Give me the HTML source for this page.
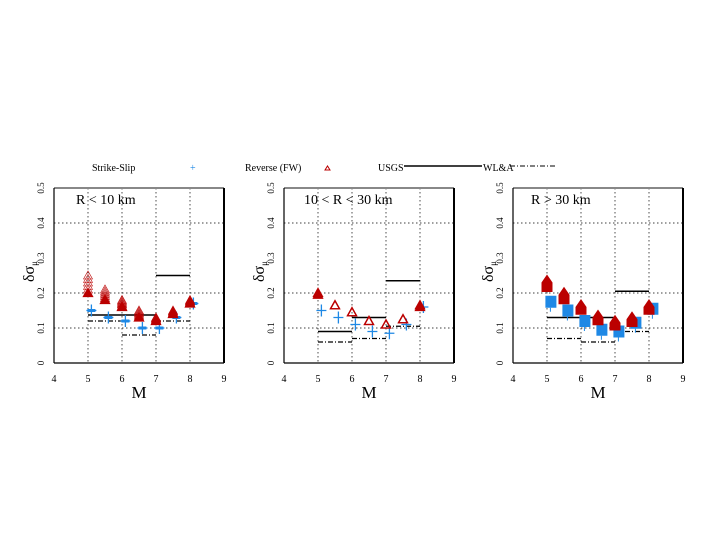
<!DOCTYPE html>
<html><head><meta charset="utf-8"><style>
body{margin:0;background:#fff;width:720px;height:540px;overflow:hidden}
svg text{font-family:"Liberation Serif",serif;fill:#000}
</style></head><body>
<svg id="c" width="720" height="540">
<g>
<text x="92" y="171" font-size="10">Strike-Slip</text>
<text x="190" y="171" font-size="10" style="fill:#1e88e5">+</text>
<text x="245" y="171" font-size="10">Reverse (FW)</text>
<path d="M325,170 L327.5,166 L330,170 Z" fill="none" stroke="#b00"/>
<text x="378" y="171" font-size="10">USGS</text>
<line x1="404" y1="166" x2="482" y2="166" stroke="#000" stroke-width="1.5"/>
<text x="483" y="171" font-size="10">WL&amp;A</text>
<line x1="510" y1="166" x2="555" y2="166" stroke="#000" stroke-dasharray="5,2,1,2"/>
</g>
</svg>
<script>
const mags=[5,5.5,6,6.5,7,7.5,8];
const titles=["R < 10 km","10 < R < 30 km","R > 30 km"];
const ssVals=[[0.15,0.13,0.12,0.10,0.10,0.13,0.17],[0.15,0.13,0.11,0.09,0.085,0.11,0.16],[0.175,0.15,0.12,0.095,0.09,0.115,0.155]];
const rvVals=[[0.20,0.18,0.16,0.13,0.12,0.14,0.17],[0.195,0.165,0.145,0.12,0.11,0.125,0.16],[0.22,0.185,0.155,0.125,0.11,0.12,0.155]];
const rvMax=[[0.25,0.21,0.18,0.15,0.13,0.15,0.18],[0.2,0.165,0.145,0.12,0.11,0.125,0.165],[0.23,0.195,0.16,0.13,0.115,0.125,0.16]];
const usgsBins2=[[[5,7],[7,8]],[[5,6],[6,7],[7,8]],[[5,7],[7,8]]];
const usgsV2=[[0.137,0.25],[0.09,0.13,0.235],[0.13,0.205]];
const wlaBins=[[5,6],[6,7],[7,8]];
const wlaVals=[[0.12,0.08,0.12],[0.06,0.07,0.105],[0.07,0.06,0.09]];
const xTicks=[4,5,6,7,8,9];
const yTicks=[0,0.1,0.2,0.3,0.4,0.5];
const gridY=[0.1,0.2,0.4];
const panelX=[54,284,513];
const NS="http://www.w3.org/2000/svg";
const svg=document.getElementById('c');
function mk(t,a,p){const e=document.createElementNS(NS,t);for(const k in a)e.setAttribute(k,a[k]);(p||svg).appendChild(e);return e;}
for(let p=0;p<3;p++){
 const x0=panelX[p],w=170,yT=188,yB=363;
 const X=m=>x0+(m-4)/5*w, Y=v=>yB-v/0.5*(yB-yT);
 const g=mk('g',{});
 
 
 for(const t of xTicks.slice(1,-1)){const l=mk('line',{x1:X(t),x2:X(t),y1:yT,y2:yB,stroke:'#000','stroke-width':0.7,'stroke-dasharray':'1.5,2.5'},g);}
 for(const t of gridY){const l=mk('line',{x1:x0,x2:x0+w,y1:Y(t),y2:Y(t),stroke:'#000','stroke-width':0.8,'stroke-dasharray':'1.5,2.5'},g);}
 mk('line',{x1:x0,x2:x0+w,y1:yT,y2:yT,stroke:'#888','stroke-width':2},g);
 mk('line',{x1:x0,x2:x0,y1:yT,y2:yB,stroke:'#000','stroke-width':1.2},g);
 mk('line',{x1:x0+w,x2:x0+w,y1:yT,y2:yB,stroke:'#000','stroke-width':2},g);
 mk('line',{x1:x0,x2:x0+w,y1:yB,y2:yB,stroke:'#000','stroke-width':1.2},g);
 for(const t of xTicks){const e=mk('text',{x:X(t),y:382,'font-size':10,'text-anchor':'middle'},g);e.textContent=t;}
 for(const t of yTicks){const e=mk('text',{x:0,y:0,'font-size':9,'text-anchor':'middle',transform:`translate(${x0-10},${Y(t)}) rotate(-90)`},g);e.textContent=t;}
 const xl=mk('text',{x:x0+85,y:398,'font-size':17,'text-anchor':'middle'},g);xl.textContent='M';
 
 const yl=mk('text',{x:0,y:0,'font-size':16,transform:`translate(${x0-20},${282}) rotate(-90)`},g);yl.innerHTML='δσ<tspan font-size="9" dy="3">μ</tspan>';
 
 const tt=mk('text',{x:x0+(p==0?22:p==1?20:18),y:204,'font-size':14},g);tt.textContent=titles[p];
 
 usgsBins2[p].forEach((b,i)=>{const l=mk('line',{x1:X(b[0]),x2:X(b[1]),y1:Y(usgsV2[p][i]),y2:Y(usgsV2[p][i]),stroke:'#000','stroke-width':1.5},g);});
 wlaBins.forEach((b,i)=>{const l=mk('line',{x1:X(b[0]),x2:X(b[1]),y1:Y(wlaVals[p][i]),y2:Y(wlaVals[p][i]),stroke:'#000','stroke-width':1.2,'stroke-dasharray':'5,2,1,2'},g);});
 mags.forEach((m,i)=>{
  const cx=X(m+0.1),cy=Y(ssVals[p][i]);
  if(p==2){const r=mk('rect',{x:cx-5,y:cy-6,width:11,height:12,fill:'#1e88e5'},g);
   mk('line',{x1:cx,x2:cx,y1:cy+6,y2:cy+10,stroke:'#1e88e5'},g);}
  else{const c=mk('path',{d:`M${cx-5},${cy}H${cx+5}M${cx},${cy-6}V${cy+6}`,stroke:'#1e88e5','stroke-width':1.3},g);
   if(p==0){mk('rect',{x:cx-4,y:cy-1.5,width:8,height:3,fill:'#1e88e5'},g);}}
 });
 mags.forEach((m,i)=>{
  const cx=X(m);const lo=Y(rvVals[p][i]),hi=Y(rvMax[p][i]);
  if(p==2){
   const t=mk('path',{d:`M${cx-5.5},${lo+6}V${hi}L${cx},${hi-8}L${cx+5.5},${hi}V${lo+6}Z`,fill:'#b00'},g);
   
   return;
  }
  const n=p==0?5:1;
  for(let k=n;k>=0;k--){const cy=hi+(lo-hi)*k/n;
   const filled=(k==n&&p==0)||(p==1&&(i==0||i==6));
   const t=mk('path',{d:`M${cx-4.5},${cy+3.5}L${cx},${cy-4.5}L${cx+4.5},${cy+3.5}Z`,fill:filled?'#b00':'none',stroke:'#b00','stroke-width':p==0&&k<n?0.6:1.3},g);
   }
 });
}
</script>
</body></html>
